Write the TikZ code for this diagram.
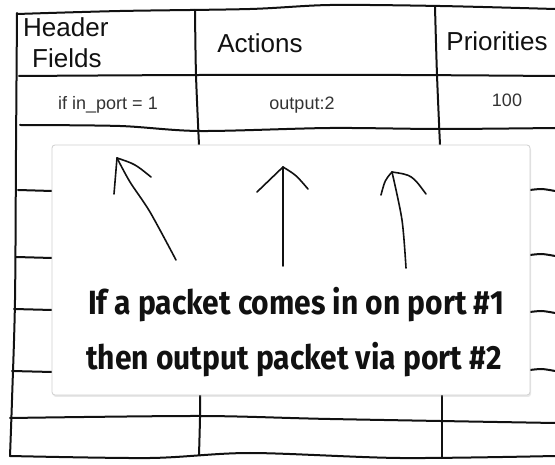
\documentclass[tikz,border=0pt]{standalone}
\usepackage{fontspec}
\setmainfont{Liberation Sans}
\newfontfamily\notefont{Fira Sans}
\usepackage{xcolor}
\usepackage{tikz}
\usetikzlibrary{shadows}
\definecolor{ink}{HTML}{111111}
\definecolor{celltext}{HTML}{333333}
\definecolor{cardline}{HTML}{CFCFCF}
\tikzset{
  pen/.style={draw=ink, line width=2pt, line cap=round, line join=round},
  arrowpen/.style={draw=ink, line width=1.6pt, line cap=round, line join=round},
  card/.style={draw=cardline, line width=0.8pt, fill=white, rounded corners=3pt,
    drop shadow={opacity=0.18, shadow xshift=1pt, shadow yshift=-2pt}},
  head/.style={font=\fontsize{26}{28}\selectfont, text=ink, inner sep=0pt},
  cell/.style={font=\fontsize{18}{20}\selectfont, text=celltext, inner sep=0pt},
  note/.style={font=\notefont\bfseries\fontsize{30}{32}\selectfont, text=ink, inner sep=0pt}
}

\begin{document}
\begin{tikzpicture}[x=1pt, y=-1pt]
  \useasboundingbox[fill=white] (0,0) rectangle (555,465);

  % table outline
  \draw[pen] plot[smooth] coordinates {(17,14) (120,11) (250,9) (330,5) (440,6) (555,9)};
  \draw[pen] plot[smooth] coordinates {(17,13) (16,150) (15,300) (12,400) (10,456)};
  \draw[pen] plot[smooth] coordinates {(19,76) (200,75) (400,75) (555,76)};
  \draw[pen] plot[smooth] coordinates {(20,125) (120,126) (200,131) (330,128) (440,129) (555,128)};
  \draw[pen] plot[smooth] coordinates {(10,418) (200,416) (330,419) (555,423)};
  \draw[pen] plot[smooth] coordinates {(10,456) (150,458) (250,453) (400,458) (555,456)};

  % column dividers
  \draw[pen] plot[smooth] coordinates {(195,10) (196,75) (199,145)};
  \draw[pen] plot[smooth] coordinates {(200,395) (200,418) (199,455)};
  \draw[pen] plot[smooth] coordinates {(435,7) (437,75) (440,145)};
  \draw[pen] plot[smooth] coordinates {(442,395) (442,420) (442,458)};

  % row stubs showing beside the card
  \foreach \ly/\lx in {190/18, 257/16, 309/14, 371/12}
    \draw[pen] (\lx,\ly) -- (52,\ly+1);
  \foreach \ry in {190, 255, 312, 370}
    \draw[pen] plot[smooth] coordinates {(530,\ry) (542,\ry-1) (555,\ry+1)};

  % header row
  \node[head, anchor=base west] (hdr) at (23,37) {Header};
  \node[head, anchor=base west] (fld) at (32,68) {Fields};
  \node[head, anchor=base] (act) at (260,53) {Actions};
  \node[head, anchor=base] (pri) at (497,51) {Priorities};

  % first entry
  \node[cell, anchor=base] (match) at (108,110) {if in\_port = 1};
  \node[cell, anchor=base] (outp) at (302,110) {output:2};
  \node[cell, anchor=base] (prio) at (507,107) {100};

  % overlay card
  \draw[card] (52,145) rectangle (530,395);

  \coordinate (tipA) at (117,158);
  \coordinate (tailA) at (176,260);
  \coordinate (tipB) at (283,167);
  \coordinate (tailB) at (283,266);
  \coordinate (tipC) at (392,172);
  \coordinate (tailC) at (406,268);

  % hand drawn arrows
  \draw[arrowpen] plot[smooth] coordinates {(tailA) (150,212) (130,182) (tipA)};
  \draw[arrowpen] (tipA) -- (114,194);
  \draw[arrowpen] (tipA) .. controls (135,164) .. (151,177);

  \draw[arrowpen] (tailB) -- (tipB);
  \draw[arrowpen] (tipB) -- (257,192);
  \draw[arrowpen] (tipB) .. controls (296,175) .. (308,189);

  \draw[arrowpen] plot[smooth] coordinates {(tailC) (402,220) (tipC)};
  \draw[arrowpen] (tipC) .. controls (385,180) .. (381,195);
  \draw[arrowpen] (tipC) .. controls (412,175) .. (426,194);

  \node[note, anchor=base west] (line1) at (88,315) {\scalebox{1}[1.12]{If a packet comes in on port \#1}};
  \node[note, anchor=base west] (line2) at (86,370) {\scalebox{1}[1.12]{then output packet via port \#2}};
\end{tikzpicture}
\end{document}
